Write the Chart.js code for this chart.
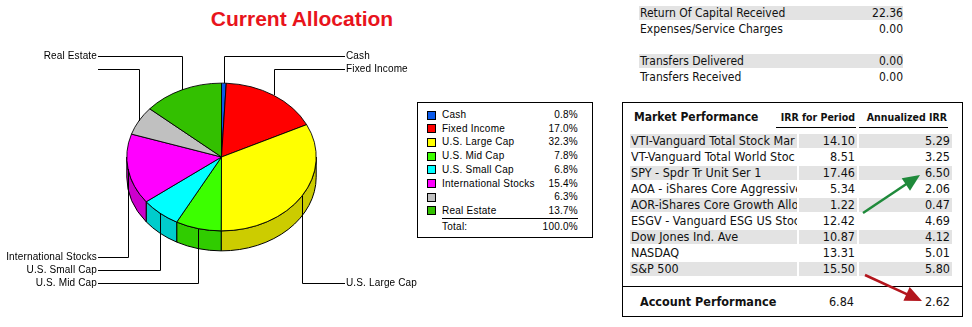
<!DOCTYPE html>
<html>
<head>
<meta charset="utf-8">
<script src="https://cdn.jsdelivr.net/npm/chart.js@4.4.0/dist/chart.umd.min.js"></script>
<style>
  html, body { margin: 0; padding: 0; background: #fff; }
  #page { position: relative; width: 972px; height: 327px; overflow: hidden; }
  #pie-wrap { position: absolute; left: 0; top: 0; width: 430px; height: 327px; z-index: 2; }
  .abs { position: absolute; white-space: nowrap; }
  .title { left: 150px; width: 304px; top: 8px; text-align: center; font: bold 21px/21px 'Liberation Sans', Arial, sans-serif; color: #e8141c; }
  .box { position: absolute; box-sizing: border-box; border: 1px solid #000; }
  .lg { font: 10px/14px 'Liberation Sans', Arial, sans-serif; letter-spacing: 0.25px; color: #000; height: 14px; }
  .sw { position: absolute; box-sizing: border-box; width: 9px; height: 9px; border: 1px solid #000; }
  .tx { font-family: 'DejaVu Sans Condensed', 'DejaVu Sans', sans-serif; font-size: 12px; line-height: 16px; height: 16px; color: #111; }
  .bold { font-weight: bold; }
  .band { position: absolute; background: #e3e3e3; height: 14px; }
  .rule { position: absolute; background: #000; height: 1px; }
  #arrows { z-index: 5; }
</style>
</head>
<body>
<div id="page">
  <div class="abs title">Current Allocation</div>
  <div class="box" style="left:417px;top:102px;width:176px;height:136px;"></div>
  <div class="box" style="left:622px;top:102px;width:341px;height:215px;"></div>
  <div id="pie-wrap"><canvas id="pie" width="430" height="327"></canvas></div>
</div>
<script>
const categories = ['Cash', 'Fixed Income', 'U.S. Large Cap', 'U.S. Mid Cap', 'U.S. Small Cap', 'International Stocks', '', 'Real Estate'];
const percents = [0.8, 17.0, 32.3, 7.8, 6.8, 15.4, 6.3, 13.7];
const totalPercent = 100.0;
const sliceColors = ['#0a5aeb', '#ff0000', '#ffff00', '#3cff00', '#00ffff', '#ff00ff', '#c0c0c0', '#33c000'];

const capitalLabels = ['Return Of Capital Received', 'Expenses/Service Charges', null, 'Transfers Delivered', 'Transfers Received'];
const capitalValues = [22.36, 0.00, null, 0.00, 0.00];

const marketNames = ['VTI-Vanguard Total Stock Mar', 'VT-Vanguard Total World Stoc', 'SPY - Spdr Tr Unit Ser 1', 'AOA - iShares Core Aggressive', 'AOR-iShares Core Growth Alloc', 'ESGV - Vanguard ESG US Stoc', 'Dow Jones Ind. Ave', 'NASDAQ', 'S&P 500'];
const irrPeriod = [14.10, 8.51, 17.46, 5.34, 1.22, 12.42, 10.87, 13.31, 15.50];
const irrAnnual = [5.29, 3.25, 6.50, 2.06, 0.47, 4.69, 4.12, 5.01, 5.80];
const accountIrr = [6.84, 2.62];

const page = document.getElementById('page');

function addDiv(cls, text, style) {
  const d = document.createElement('div');
  d.className = cls;
  if (text !== null) d.textContent = text;
  Object.assign(d.style, style);
  page.appendChild(d);
  return d;
}

// legend box
function buildLegend() {
  const step = 13.71;
  categories.forEach((name, i) => {
    const cy = 115 + step * i;
    const sw = addDiv('sw', null, { left: '427px', top: (cy - 4.5) + 'px' });
    sw.style.background = sliceColors[i];
    addDiv('abs lg', name, { left: '442px', top: (cy - 7) + 'px' });
    addDiv('abs lg', percents[i].toFixed(1) + '%', { left: '500px', width: '78px', textAlign: 'right', top: (cy - 7) + 'px' });
  });
  addDiv('rule', null, { left: '442px', top: '218px', width: '136px' });
  addDiv('abs lg', 'Total:', { left: '442px', top: '220px' });
  addDiv('abs lg', totalPercent.toFixed(1) + '%', { left: '500px', width: '78px', textAlign: 'right', top: '220px' });
}

// capital / transfers rows
function buildCapital() {
  capitalLabels.forEach((label, i) => {
    if (label === null) return;
    const cy = 13 + 16 * i;
    if (i === 0 || i === 3) addDiv('band', null, { left: '639px', top: (cy - 7) + 'px', width: '264px' });
    addDiv('abs tx', label, { left: '640px', top: (cy - 8) + 'px' });
    addDiv('abs tx', capitalValues[i].toFixed(2), { left: '843px', width: '60px', textAlign: 'right', top: (cy - 8) + 'px' });
  });
}

// market performance table
function buildMarket() {
  addDiv('abs tx bold', 'Market Performance', { left: '634px', top: '109px', fontSize: '12px' });
  addDiv('abs tx bold', 'IRR for Period', { left: '760px', width: '95px', textAlign: 'right', top: '109px', fontSize: '10.5px' });
  addDiv('abs tx bold', 'Annualized IRR', { left: '850px', width: '97px', textAlign: 'right', top: '109px', fontSize: '10.5px' });
  addDiv('rule', null, { left: '776px', top: '127px', width: '80px' });
  addDiv('rule', null, { left: '859px', top: '127px', width: '89px' });

  marketNames.forEach((name, i) => {
    const cy = 141 + 16 * i;
    if (i % 2 === 0) {
      addDiv('band', null, { left: '630px', top: (cy - 7) + 'px', width: '167px' });
      addDiv('band', null, { left: '799px', top: (cy - 7) + 'px', width: '58px' });
      addDiv('band', null, { left: '859px', top: (cy - 7) + 'px', width: '93px' });
    }
    addDiv('abs tx', name, { left: '631px', width: '166px', overflow: 'hidden', top: (cy - 8) + 'px', fontSize: '12.5px' });
    addDiv('abs tx', irrPeriod[i].toFixed(2), { left: '795px', width: '60px', textAlign: 'right', top: (cy - 8) + 'px', fontSize: '12.5px' });
    addDiv('abs tx', irrAnnual[i].toFixed(2), { left: '890px', width: '60px', textAlign: 'right', top: (cy - 8) + 'px', fontSize: '12.5px' });
  });

  addDiv('rule', null, { left: '622px', top: '286px', width: '341px' });
  addDiv('abs tx bold', 'Account Performance', { left: '640px', top: '294px', fontSize: '12.5px' });
  addDiv('abs tx', accountIrr[0].toFixed(2), { left: '794px', width: '60px', textAlign: 'right', top: '294px', fontSize: '12.5px' });
  addDiv('abs tx', accountIrr[1].toFixed(2), { left: '890px', width: '60px', textAlign: 'right', top: '294px', fontSize: '12.5px' });
}

function drawArrows() {
  const ns = 'http://www.w3.org/2000/svg';
  const svg = document.createElementNS(ns, 'svg');
  svg.setAttribute('id', 'arrows');
  svg.setAttribute('width', '972');
  svg.setAttribute('height', '327');
  svg.setAttribute('class', 'abs');
  svg.style.left = '0px';
  svg.style.top = '0px';
  page.appendChild(svg);
  const arrows = [
    { from: [863, 213], to: [920, 175], color: '#1f8a3b' },
    { from: [865, 275], to: [922, 301], color: '#b3161d' }
  ];
  arrows.forEach(a => {
    const dx = a.to[0] - a.from[0], dy = a.to[1] - a.from[1];
    const len = Math.hypot(dx, dy);
    const ux = dx / len, uy = dy / len;
    const head = 17, half = 7.5;
    const bx = a.to[0] - ux * head, by = a.to[1] - uy * head;
    const line = document.createElementNS(ns, 'line');
    line.setAttribute('x1', a.from[0]); line.setAttribute('y1', a.from[1]);
    line.setAttribute('x2', bx + ux * 2); line.setAttribute('y2', by + uy * 2);
    line.setAttribute('stroke', a.color); line.setAttribute('stroke-width', '2.5');
    svg.appendChild(line);
    const poly = document.createElementNS(ns, 'polygon');
    const pts = [[a.to[0], a.to[1]], [bx - uy * half, by + ux * half], [bx + uy * half, by - ux * half]];
    poly.setAttribute('points', pts.map(p => p.join(',')).join(' '));
    poly.setAttribute('fill', a.color);
    svg.appendChild(poly);
  });
}

function shade(hex, f) {
  const n = parseInt(hex.slice(1), 16);
  const r = Math.round(((n >> 16) & 255) * f), g = Math.round(((n >> 8) & 255) * f), b = Math.round((n & 255) * f);
  return `rgb(${r},${g},${b})`;
}

// tilts the pie into an ellipse, draws the side wall and the leader lines
const pie3d = {
  id: 'pie3d',
  beforeDatasetsDraw(chart, args, opts) {
    const ctx = chart.ctx;
    const arcs = chart.getDatasetMeta(0).data;
    const cx = arcs[0].x, cy = arcs[0].y, r = arcs[0].outerRadius;
    const ry = r * opts.tilt;
    ctx.save();
    arcs.forEach((arc, i) => {
      const a0 = Math.max(arc.startAngle, 0);
      const a1 = Math.min(arc.endAngle, Math.PI);
      if (a1 <= a0) return;
      ctx.beginPath();
      ctx.ellipse(cx, cy, r, ry, 0, a0, a1);
      ctx.ellipse(cx, cy + opts.depth, r, ry, 0, a1, a0, true);
      ctx.closePath();
      ctx.fillStyle = shade(sliceColors[i], 0.8);
      ctx.fill();
      ctx.lineWidth = 1;
      ctx.strokeStyle = '#000';
      ctx.stroke();
    });
    ctx.restore();
    ctx.save();
    ctx.translate(cx, cy);
    ctx.scale(1, opts.tilt);
    ctx.translate(-cx, -cy);
  },
  afterDatasetsDraw(chart, args, opts) {
    const ctx = chart.ctx;
    ctx.restore();
    const arcs = chart.getDatasetMeta(0).data;
    const cx = arcs[0].x, cy = arcs[0].y, r = arcs[0].outerRadius;
    const ry = r * opts.tilt;
    const groups = { tl: [], tr: [], bl: [], br: [] };
    arcs.forEach((arc, i) => {
      const m = (arc.startAngle + arc.endAngle) / 2;
      const ax = cx + r * Math.cos(m), ay = cy + ry * Math.sin(m);
      const key = (ay < cy ? 't' : 'b') + (ax < cx ? 'l' : 'r');
      groups[key].push({ i, ax, ay });
    });
    ctx.save();
    ctx.strokeStyle = '#000';
    ctx.lineWidth = 1;
    ctx.fillStyle = '#000';
    ctx.font = '10px "Liberation Sans", Arial, sans-serif';
    ctx.letterSpacing = '0.15px';
    ctx.textBaseline = 'middle';
    Object.keys(groups).forEach(key => {
      const rows = key[0] === 't' ? opts.topRows : opts.bottomRows;
      const left = key[1] === 'l';
      groups[key].sort((a, b) => Math.abs(a.ax - cx) - Math.abs(b.ax - cx));
      groups[key].forEach((p, k) => {
        const x = Math.round(p.ax) + 0.5;
        const y = rows[k] + 0.5;
        const ex = left ? opts.leftX : opts.rightX;
        ctx.beginPath();
        ctx.moveTo(x, Math.round(p.ay));
        ctx.lineTo(x, y);
        ctx.lineTo(ex, y);
        ctx.stroke();
        ctx.textAlign = left ? 'right' : 'left';
        ctx.fillText(categories[p.i], left ? ex - 1 : ex + 1, y);
      });
    });
    ctx.restore();
  }
};

new Chart(document.getElementById('pie'), {
  type: 'pie',
  data: {
    labels: categories,
    datasets: [{
      data: percents,
      backgroundColor: sliceColors,
      borderColor: '#000',
      borderWidth: 1,
      radius: 94.7
    }]
  },
  options: {
    responsive: false,
    animation: false,
    events: [],
    layout: { padding: { left: 13, right: 0, top: 0, bottom: 13 } },
    plugins: {
      legend: { display: false },
      tooltip: { enabled: false },
      pie3d: { tilt: 0.78, depth: 20, topRows: [56, 69], bottomRows: [283, 270, 257], leftX: 98, rightX: 345 }
    }
  },
  plugins: [pie3d]
});

buildLegend();
buildCapital();
buildMarket();
drawArrows();
</script>
</body>
</html>
